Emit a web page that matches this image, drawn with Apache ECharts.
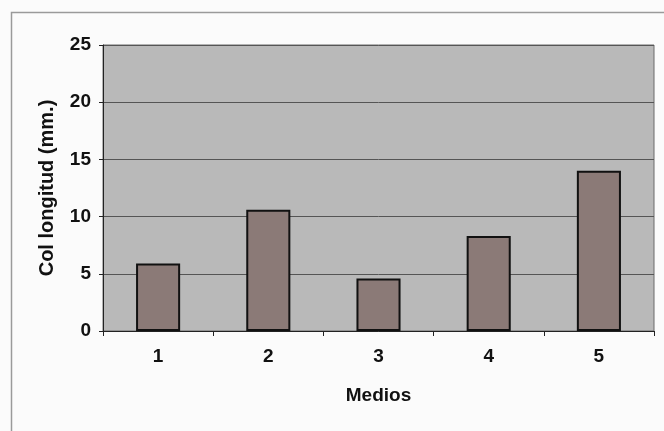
<!DOCTYPE html>
<html>
<head>
<meta charset="utf-8">
<script src="https://cdn.jsdelivr.net/npm/echarts@6/dist/echarts.min.js"></script>
<style>
  html, body { margin: 0; padding: 0; background: #fbfbfb; }
  #chart { width: 664px; height: 431px; }
</style>
</head>
<body>
<div id="chart"></div>
<script>
// Culture media and the measured length for each
const categories = ['1', '2', '3', '4', '5'];
const lengths = [5.9, 10.6, 4.6, 8.3, 14.0];
const yTicks = [0, 5, 10, 15, 20, 25];

const chart = echarts.init(document.getElementById('chart'), null, { renderer: 'canvas' });

const font = 'Liberation Sans, Arial, sans-serif';

chart.setOption({
  backgroundColor: '#fbfbfb',
  animation: false,
  graphic: [
    {
      type: 'rect',
      left: 9, top: 10,
      shape: { width: 720, height: 480 },
      style: { fill: 'none', stroke: '#9a9a9a', lineWidth: 1.5 },
      z: -1
    }
  ],
  grid: {
    left: 103, top: 45, right: 10, bottom: 100,
    show: true,
    backgroundColor: '#b9b9b9',
    borderColor: '#6a6a6a',
    borderWidth: 1
  },
  xAxis: {
    type: 'category',
    data: categories,
    name: 'Medios',
    nameLocation: 'middle',
    nameGap: 55,
    nameTextStyle: { fontFamily: font, fontWeight: 'bold', fontSize: 19, color: '#111' },
    axisLine: { lineStyle: { color: '#222', width: 1 } },
    axisTick: { show: true, length: 5, lineStyle: { color: '#222' } },
    axisLabel: { fontFamily: font, fontWeight: 'bold', fontSize: 19, color: '#111', margin: 16 }
  },
  yAxis: {
    type: 'value',
    min: yTicks[0],
    max: yTicks[yTicks.length - 1],
    interval: yTicks[1] - yTicks[0],
    name: 'Col longitud (mm.)',
    nameLocation: 'middle',
    nameGap: 46,
    nameTextStyle: { fontFamily: font, fontWeight: 'bold', fontSize: 20, color: '#111' },
    axisLine: { show: true, lineStyle: { color: '#222', width: 1 } },
    axisTick: { show: true, length: 4, lineStyle: { color: '#222' } },
    axisLabel: { fontFamily: font, fontWeight: 'bold', fontSize: 19, color: '#111', margin: 12 },
    splitLine: { show: true, lineStyle: { color: '#555', width: 1 } }
  },
  series: [
    {
      type: 'bar',
      data: lengths,
      barWidth: '40%',
      itemStyle: { color: '#8b7a77', borderColor: '#111', borderWidth: 2 }
    }
  ]
});
</script>
</body>
</html>
